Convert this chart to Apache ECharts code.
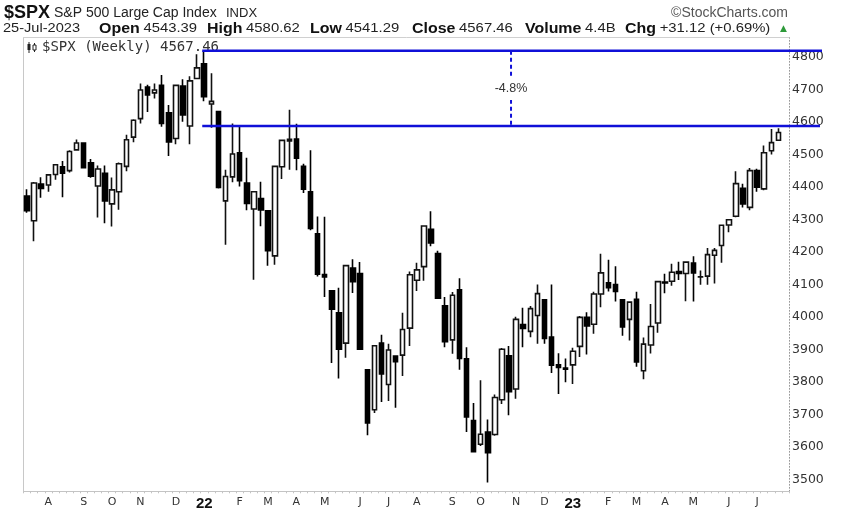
<!DOCTYPE html>
<html><head><meta charset="utf-8">
<script src="https://cdn.jsdelivr.net/npm/echarts@6/dist/echarts.min.js"></script>
<style>html,body{margin:0;padding:0;background:#fff}#c{width:848px;height:513px}</style>
</head><body><div id="c"></div>
<script>
// Weekly candles: week start date, open, high, low, close
const dates = [
'2021-07-12','2021-07-19','2021-07-26','2021-08-02','2021-08-09','2021-08-16','2021-08-23','2021-08-30','2021-09-07','2021-09-13',
'2021-09-20','2021-09-27','2021-10-04','2021-10-11','2021-10-18','2021-10-25','2021-11-01','2021-11-08','2021-11-15','2021-11-22',
'2021-11-29','2021-12-06','2021-12-13','2021-12-20','2021-12-27','2022-01-03','2022-01-10','2022-01-18','2022-01-24','2022-01-31',
'2022-02-07','2022-02-14','2022-02-22','2022-02-28','2022-03-07','2022-03-14','2022-03-21','2022-03-28','2022-04-04','2022-04-11',
'2022-04-18','2022-04-25','2022-05-02','2022-05-09','2022-05-16','2022-05-23','2022-05-31','2022-06-06','2022-06-13','2022-06-21',
'2022-06-27','2022-07-05','2022-07-11','2022-07-18','2022-07-25','2022-08-01','2022-08-08','2022-08-15','2022-08-22','2022-08-29',
'2022-09-06','2022-09-12','2022-09-19','2022-09-26','2022-10-03','2022-10-10','2022-10-17','2022-10-24','2022-10-31','2022-11-07',
'2022-11-14','2022-11-21','2022-11-28','2022-12-05','2022-12-12','2022-12-19','2022-12-27','2023-01-03','2023-01-09','2023-01-17',
'2023-01-23','2023-01-30','2023-02-06','2023-02-13','2023-02-21','2023-02-27','2023-03-06','2023-03-13','2023-03-20','2023-03-27',
'2023-04-03','2023-04-10','2023-04-17','2023-04-24','2023-05-01','2023-05-08','2023-05-15','2023-05-22','2023-05-30','2023-06-05',
'2023-06-12','2023-06-20','2023-06-26','2023-07-03','2023-07-10','2023-07-17','2023-07-24'];
const opens = [
4372,4296,4409,4406,4438,4462,4450,4514,4535,4474, 4403,4442,4348,4385,4463,4553,4610,4707,4689,4712,
4628,4549,4710,4587,4733,4778,4655,4632,4357,4431, 4505,4412,4332,4364,4327,4188,4462,4541,4547,4463,
4385,4256,4131,4081,4013,3920,4151,4134,3838,3715, 3920,3793,3880,3883,3966,4113,4155,4270,4195,4035,
3930,4084,3872,3682,3609,3647,3639,3746,3881,3779, 3977,3956,4005,4053,3939,3853,3843,3853,3910,3999,
3978,4071,4105,4100,4053,3993,4055,3835,3914,3982, 4108,4110,4140,4134,4166,4123,4126,4190,4220,4283,
4310,4396,4337,4450,4394,4511,4543.39];
const highs = [
4393,4415,4430,4440,4468,4480,4513,4546,4536,4486, 4466,4466,4429,4475,4560,4608,4718,4714,4718,4744,
4652,4713,4731,4740,4808,4819,4749,4632,4453,4595, 4590,4490,4386,4416,4329,4465,4546,4637,4594,4471,
4513,4309,4308,4081,4090,4158,4178,4169,3838,3913, 3946,3918,3880,4013,4140,4167,4280,4325,4204,4062,
4077,4119,3907,3736,3806,3685,3762,3905,3911,4001, 4029,4034,4100,4053,4100,3889,3873,3906,4003,4015,
4078,4195,4176,4156,4053,4049,4078,3937,4040,4110, 4133,4164,4170,4170,4187,4143,4212,4212,4282,4299,
4448,4410,4458,4456,4527,4578,4580.62];
const lows = [
4321,4233,4367,4385,4422,4368,4444,4513,4457,4428, 4306,4288,4278,4330,4448,4537,4595,4630,4672,4585,
4495,4531,4600,4531,4733,4663,4582,4395,4222,4414, 4401,4328,4115,4279,4158,4161,4424,4453,4451,4381,
4267,4125,4062,3859,3811,3875,4074,3900,3637,3705, 3739,3742,3721,3819,3911,4080,4112,4218,4057,3907,
3887,3838,3647,3584,3604,3492,3635,3733,3698,3749, 3907,3938,3918,3918,3828,3764,3800,3794,3877,3885,
3949,4030,4079,4048,3943,3928,3847,3809,3888,3952, 4073,4096,4114,4049,4048,4099,4099,4103,4167,4261,
4307,4337,4328,4385,4390,4500,4541.29];
const closes = [
4327,4412,4395,4437,4468,4442,4509,4535,4459,4433, 4455,4357,4391,4471,4545,4605,4698,4683,4698,4595,
4538,4712,4621,4726,4766,4677,4663,4398,4432,4501, 4419,4349,4385,4329,4204,4463,4543,4546,4488,4393,
4272,4132,4123,4024,3901,4158,4109,3901,3675,3912, 3825,3899,3863,3962,4130,4145,4280,4228,4058,3924,
4067,3873,3693,3586,3640,3583,3753,3901,3771,3993, 3965,4026,4072,3934,3852,3845,3840,3895,3999,3973,
4071,4136,4090,4079,3970,4046,3862,3917,3971,4109, 4105,4138,4134,4169,4136,4124,4192,4205,4282,4299,
4410,4348,4450,4399,4505,4536,4567.46];

const monthLetters = ['J','F','M','A','M','J','J','A','S','O','N','D'];
const yTicks = [3500,3600,3700,3800,3900,4000,4100,4200,4300,4400,4500,4600,4700,4800];
const allTimeHigh = 4818.62;
const retestLevel = 4587;
const pctLabel = '-4.8%';
const highIndex = 25;      // week of the all-time high
const measureIndex = 68;   // week where the % drop is measured

// header quote fields
const quoteDate = '25-Jul-2023';
const quoteFields = [['Open', '4543.39'], ['High', '4580.62'], ['Low', '4541.29'], ['Close', '4567.46'], ['Volume', '4.4B'], ['Chg', '+31.12 (+0.69%)']];

// axis tick labels derived from the dates
const xLabels = dates.map((d, i) => {
  if (i === 0) return '';
  const m = +d.slice(5, 7), pm = +dates[i - 1].slice(5, 7);
  if (m === pm) return '';
  return m === 1 ? '{y|' + d.slice(2, 4) + '}' : monthLetters[m - 1];
});
const cats = dates.concat(['']);
xLabels.push('');
const candleData = dates.map((d, i) => [opens[i], closes[i], lows[i], highs[i]]);

const chart = echarts.init(document.getElementById('c'), null, {renderer: 'canvas'});
chart.setOption({
  animation: false,
  backgroundColor: '#fff',
  grid: {left: 23.5, right: 59, top: 37.5, bottom: 21.7, show: false},
  xAxis: [{
    type: 'category', data: cats, boundaryGap: true,
    axisLine: {show: true, lineStyle: {color: '#c4c4c4', width: 1}},
    axisTick: {show: true, interval: 0, length: 2, lineStyle: {color: '#c4c4c4'}},
    axisLabel: {
      interval: 0, margin: 5, color: '#333', fontFamily: 'DejaVu Sans', fontSize: 11,
      formatter: (v, i) => xLabels[i],
      rich: {y: {fontFamily: 'Liberation Sans', fontWeight: 'bold', fontSize: 15, color: '#111'}}
    },
    splitLine: {show: false}
  }, {
    type: 'category', data: cats, position: 'top', boundaryGap: true,
    axisLine: {show: true, lineStyle: {color: '#d0d0d0'}},
    axisTick: {show: false}, axisLabel: {show: false}, splitLine: {show: false}
  }],
  yAxis: [{
    type: 'value', position: 'right', min: 3464.6, max: 4859.2, scale: true,
    axisLine: {show: true, lineStyle: {color: '#999', type: [1, 2], width: 1}},
    axisTick: {show: false},
    axisLabel: {
      customValues: yTicks, margin: 3, color: '#333', fontFamily: 'DejaVu Sans', fontSize: 12.5,
      padding: [0, 0, 4, 0], formatter: v => String(v)
    },
    splitLine: {show: false}
  }, {
    type: 'value', position: 'left', min: 0, max: 1,
    axisLine: {show: true, lineStyle: {color: '#c8c8c8'}},
    axisTick: {show: false}, axisLabel: {show: false}, splitLine: {show: false}
  }],
  series: [{
    type: 'candlestick', xAxisIndex: 0, yAxisIndex: 0, data: candleData.concat(['-']),
    barWidth: 5,
    itemStyle: {color: '#fff', color0: '#000', borderColor: '#111', borderColor0: '#000',
                borderColorDoji: '#111', borderWidth: 1.6}
  }]
});

// overlay lines and texts positioned through the axis scales
const px = (i, v) => chart.convertToPixel({xAxisIndex: 0, yAxisIndex: 0}, [i, v]);
const pHigh = px(highIndex, allTimeHigh), pRet = px(highIndex, retestLevel);
const pMeas = px(measureIndex, allTimeHigh), pMeasLow = px(measureIndex, retestLevel);
const lineEnd = 848 - 26;
const blue = '#1010d8';
const mx = pMeas[0] + 2;

const groupX = [99, 207, 310, 412, 525, 625];
const quoteTexts = quoteFields.map((f, k) => ({
  type: 'text', x: groupX[k], y: 28.5, scaleX: 1.1,
  style: {text: '{b|' + f[0] + '} {n|' + f[1] + '}', verticalAlign: 'middle',
          rich: {n: {fill: '#222', font: '13.5px "Liberation Sans"'}, b: {fill: '#111', font: 'bold 14.5px "Liberation Sans"'}}}
}));

chart.setOption({
  graphic: [
    {type: 'line', shape: {x1: pHigh[0] - 2, y1: pHigh[1], x2: lineEnd, y2: pHigh[1]}, style: {stroke: blue, lineWidth: 2.5}, z: 10},
    {type: 'line', shape: {x1: pRet[0] - 2, y1: pRet[1], x2: lineEnd - 2, y2: pRet[1]}, style: {stroke: blue, lineWidth: 2.5}, z: 10},
    {type: 'line', shape: {x1: mx, y1: pMeas[1], x2: mx, y2: pMeasLow[1]}, style: {stroke: blue, lineWidth: 2, lineDash: [4, 3]}, z: 10},
    {type: 'text', x: mx, y: (pMeas[1] + pMeasLow[1]) / 2, z: 11,
     style: {text: pctLabel, fill: '#333', font: '12.5px "Liberation Sans"', align: 'center', verticalAlign: 'middle',
             backgroundColor: '#fff', padding: [5, 1, 5, 1]}},
    // header
    {type: 'text', x: 4, y: 13, style: {text: '$SPX', fill: '#111', font: 'bold 18px "Liberation Sans"', verticalAlign: 'middle'}},
    {type: 'text', x: 54, y: 13.5, style: {text: 'S&P 500 Large Cap Index', fill: '#222', font: '14px "Liberation Sans"', verticalAlign: 'middle'}},
    {type: 'text', x: 226, y: 13.5, style: {text: 'INDX', fill: '#222', font: '13px "Liberation Sans"', verticalAlign: 'middle'}},
    {type: 'text', x: 788, y: 13.5, style: {text: '\u00A9StockCharts.com', fill: '#555', font: '14px "Liberation Sans"', align: 'right', verticalAlign: 'middle'}},
    {type: 'text', x: 3, y: 28.5, scaleX: 1.08, style: {text: quoteDate, fill: '#222', font: '13.5px "Liberation Sans"', verticalAlign: 'middle'}},
    ...quoteTexts,
    {type: 'text', x: 787, y: 28.5, style: {text: '\u25B2', fill: '#2e9a3a', font: '9px "DejaVu Sans"', align: 'right', verticalAlign: 'middle'}},
    // in-chart legend
    {type: 'line', shape: {x1: 29, y1: 42, x2: 29, y2: 53}, style: {stroke: '#222', lineWidth: 1}},
    {type: 'rect', shape: {x: 27.5, y: 44, width: 3, height: 6}, style: {fill: '#222'}},
    {type: 'line', shape: {x1: 34.5, y1: 43, x2: 34.5, y2: 52}, style: {stroke: '#222', lineWidth: 1}},
    {type: 'rect', shape: {x: 33, y: 45, width: 3, height: 5}, style: {fill: '#fff', stroke: '#222', lineWidth: 1}},
    {type: 'text', x: 42, y: 47.5, z: 5, style: {text: '$SPX (Weekly) 4567.46', fill: '#333', font: '14px "DejaVu Sans Mono"', verticalAlign: 'middle'}}
  ]
});
</script></body></html>
